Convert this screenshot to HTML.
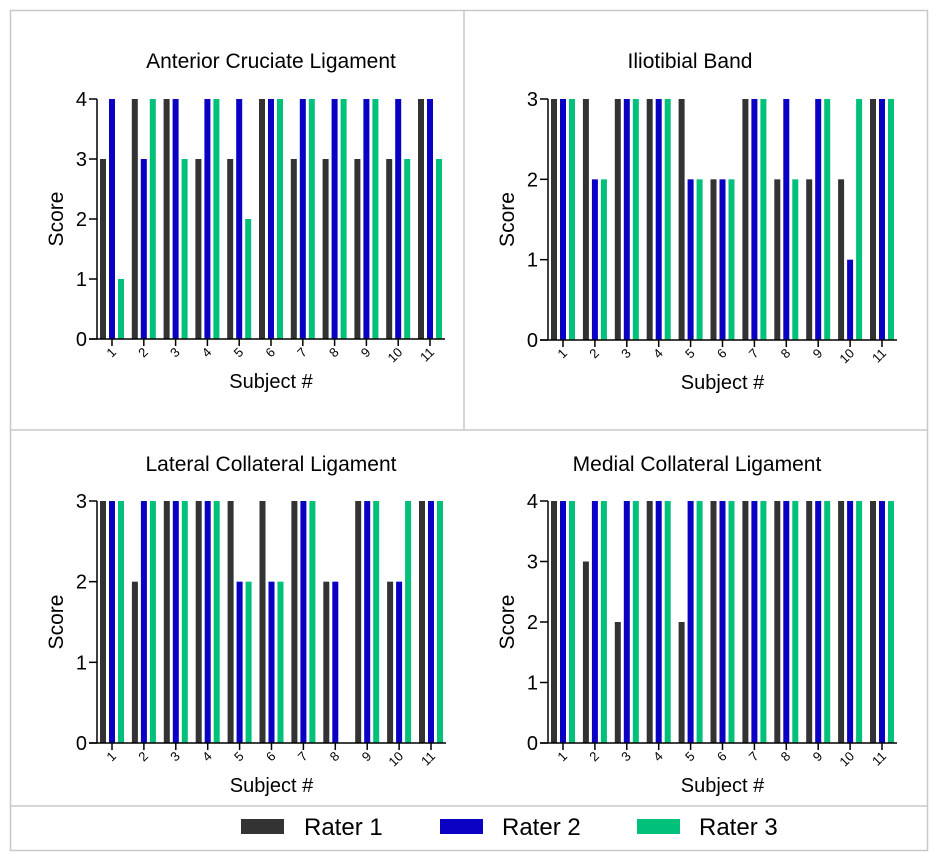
<!DOCTYPE html>
<html><head><meta charset="utf-8"><style>
body{margin:0;background:#fff;}
svg{display:block;font-family:"Liberation Sans",Arial,sans-serif;}
</style></head><body>
<svg id="c" width="936" height="866">
<rect x="10.5" y="10.5" width="917" height="840" fill="none" stroke="#c8c8c8" stroke-width="1.5"/>
<line x1="464" y1="10" x2="464" y2="430" stroke="#c8c8c8" stroke-width="1.5"/>
<line x1="10" y1="430" x2="928" y2="430" stroke="#c8c8c8" stroke-width="1.5"/>
<line x1="10" y1="806" x2="928" y2="806" stroke="#c8c8c8" stroke-width="1.5"/>
<g>
<rect x="241" y="819" width="43" height="15" fill="#333333"/>
<text x="304" y="835" font-size="24">Rater 1</text>
<rect x="440" y="819" width="43" height="15" fill="#0a00c4"/>
<text x="502" y="835" font-size="24">Rater 2</text>
<rect x="637" y="819" width="43" height="15" fill="#00c07a"/>
<text x="699" y="835" font-size="24">Rater 3</text>
</g>
</svg>
<script>
const subjects = ["1","2","3","4","5","6","7","8","9","10","11"];
const aclR1 = [3,4,4,3,3,4,3,3,3,3,4];
const aclR2 = [4,3,4,4,4,4,4,4,4,4,4];
const aclR3 = [1,4,3,4,2,4,4,4,4,3,3];
const itbR1 = [3,3,3,3,3,2,3,2,2,2,3];
const itbR2 = [3,2,3,3,2,2,3,3,3,1,3];
const itbR3 = [3,2,3,3,2,2,3,2,3,3,3];
const lclR1 = [3,2,3,3,3,3,3,2,3,2,3];
const lclR2 = [3,3,3,3,2,2,3,2,3,2,3];
const lclR3 = [3,3,3,3,2,2,3,0,3,3,3];
const mclR1 = [4,3,2,4,2,4,4,4,4,4,4];
const mclR2 = [4,4,4,4,4,4,4,4,4,4,4];
const mclR3 = [4,4,4,4,4,4,4,4,4,4,4];
const colors = ["#333333","#0a00c4","#00c07a"];
const NS="http://www.w3.org/2000/svg";
const svg=document.getElementById('c');
function mk(tag,attrs,parent){const e=document.createElementNS(NS,tag);for(const k in attrs)e.setAttribute(k,attrs[k]);(parent||svg).appendChild(e);return e;}
const panels=[
 {key:'acl',title:'Anterior Cruciate  Ligament',ax:97,top:99,bot:339,right:445,max:4,series:[aclR1,aclR2,aclR3],tx:271,ty:68},
 {key:'itb',title:'Iliotibial Band',ax:548,top:99,bot:340,right:897,max:3,series:[itbR1,itbR2,itbR3],tx:690,ty:68},
 {key:'lcl',title:'Lateral Collateral Ligament',ax:97,top:501,bot:743,right:446,max:3,series:[lclR1,lclR2,lclR3],tx:271,ty:471},
 {key:'mcl',title:'Medial Collateral Ligament',ax:548,top:501,bot:743,right:897,max:4,series:[mclR1,mclR2,mclR3],tx:697,ty:471}
];
panels.forEach(p=>{
 const g=mk('g',{});
 
 
 const y=v=>p.bot-(p.bot-p.top)*v/p.max;
 const x0=p.ax+15, step=(p.right-p.ax-15-15)/(subjects.length-1);
 const x=i=>x0+i*step;
 const t=mk('text',{x:p.tx,y:p.ty,'font-size':21,'text-anchor':'middle'},g);t.textContent=p.title;
 
 
 p.series.forEach((s,si)=>{
  s.forEach((v,i)=>{
   if(v<=0)return;
   const r=mk('rect',{x:x(i)-12+si*9,y:y(v),width:6,height:p.bot-y(v),fill:colors[si]},g);
   
   
  });
 });
 const ya=mk('line',{x1:p.ax,y1:p.top,x2:p.ax,y2:p.bot,stroke:'#000','stroke-width':1.5},g);
 
 
 const xa=mk('line',{x1:p.ax-8,y1:p.bot,x2:p.right,y2:p.bot,stroke:'#000','stroke-width':1.5},g);
 
 
 for(let v=0;v<=p.max;v++){
  mk('line',{x1:p.ax-8,y1:y(v),x2:p.ax,y2:y(v),stroke:'#000','stroke-width':1.5},g);
  const tl=mk('text',{x:p.ax-10,y:y(v)+7,'font-size':20,'text-anchor':'end'},g);tl.textContent=v;
  
  
 }
 subjects.forEach((s,i)=>{
  mk('line',{x1:x(i),y1:p.bot,x2:x(i),y2:p.bot+7,stroke:'#000','stroke-width':1.5},g);
  const tl=mk('text',{x:x(i)+5,y:p.bot+14,'font-size':13,'text-anchor':'end',transform:`rotate(-45 ${x(i)+5} ${p.bot+14})`},g);tl.textContent=s;
  
  
 });
 const xt=mk('text',{x:(p.ax+p.right)/2,y:p.bot+49,'font-size':20,'text-anchor':'middle'},g);xt.textContent='Subject #';
 
 
 const yc=(p.top+p.bot)/2;
 const yt=mk('text',{x:p.ax-34,y:yc,'font-size':21,'text-anchor':'middle',transform:`rotate(-90 ${p.ax-34} ${yc})`},g);yt.textContent='Score';
 
 
});
</script>
</body></html>
